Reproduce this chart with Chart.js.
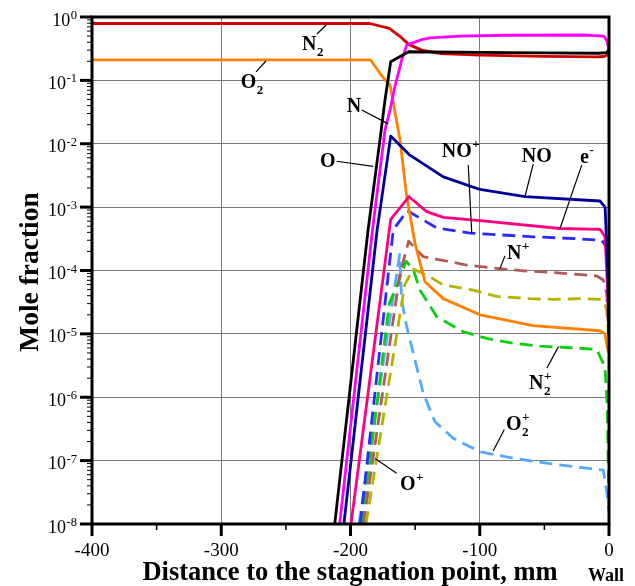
<!DOCTYPE html>
<html>
<head>
<meta charset="utf-8">
<title>Mole fraction along the stagnation line</title>
<script src="https://cdn.jsdelivr.net/npm/chart.js@4.4.1/dist/chart.umd.min.js"></script>
<style>
  html, body { margin: 0; padding: 0; background: #fff; }
  canvas { display: block; }
</style>
</head>
<body>
<canvas id="chart" width="635" height="586"></canvas>
<script>
const SERIF = '"Liberation Serif", "Times New Roman", Times, serif';

// Distance to the stagnation point (mm, wall at 0) and mole fraction of each species
const xN2 = [-400, -185, -170, -162, -155, -145, -130, -100, -50, -10, -4, -1.5, 0];
const yN2 = [0.79, 0.79, 0.66, 0.50, 0.37, 0.30, 0.265, 0.25, 0.24, 0.235, 0.238, 0.25, 0.28];

const xO2 = [-400, -184.5, -175.2, -169.4, -167.3, -161.7, -156.5, -150.1, -142.4, -128.2, -99.8, -58.8, -7, -3, -1.3, 0];
const yO2 = [0.21, 0.21, 0.114, 0.0845, 0.049, 0.0115, 1.46e-3, 2.7e-4, 6.65e-5, 3.6e-5, 2.0e-5, 1.35e-5, 1.12e-5, 1.0e-5, 6e-6, 5e-6];

const xN = [-208.4, -183.0, -173.3, -169.4, -165.6, -160.4, -156.5, -145, -138.5, -115, -80, -20, -4, -1.5, 0];
const yN = [1e-8, 4.36e-4, 0.0165, 0.034, 0.08, 0.21, 0.36, 0.44, 0.47, 0.50, 0.515, 0.52, 0.50, 0.42, 0.30];

const xO = [-212.2, -186.4, -177.2, -173.3, -168.9, -155, -100, -50, -8, -2, 0];
const yO = [1e-8, 4.36e-4, 0.0115, 0.049, 0.197, 0.283, 0.277, 0.272, 0.268, 0.275, 0.30];

const xNO = [-205.1, -179.4, -168.9, -154, -128.2, -99.8, -65, -7, -3, -1, 0];
const yNO = [1e-8, 4.36e-4, 0.0132, 6.6e-3, 3.0e-3, 1.9e-3, 1.46e-3, 1.25e-3, 1.0e-3, 1e-4, 1e-5];

const xE = [-199.6, -168.9, -154.7, -141.0, -128.2, -99.8, -37.9, -7.0, -3.1, -1, 0];
const yE = [1e-8, 6.4e-4, 1.46e-3, 8.5e-4, 6.9e-4, 6.1e-4, 4.6e-4, 4.47e-4, 3.4e-4, 5e-5, 1e-5];

const xNOp = [-192.5, -166.9, -156, -146.2, -133.3, -107.5, -58.8, -27.6, -5.6, -1.8, 0];
const yNOp = [1e-8, 4.4e-4, 8.8e-4, 6.7e-4, 4.7e-4, 3.9e-4, 3.4e-4, 3.2e-4, 3.0e-4, 2.3e-4, 1e-5];

const xNp = [-190, -161.7, -155, -143.7, -130.8, -110.1, -86.9, -66.3, -48.2, -27.6, -9.5, -4.4, -1.8, 0];
const yNp = [1e-8, 9e-5, 2.9e-4, 1.65e-4, 1.47e-4, 1.22e-4, 1.08e-4, 9.9e-5, 9.4e-5, 8.8e-5, 8.2e-5, 7.1e-5, 4.4e-5, 8e-6];

const xOp = [-188, -158, -151.5, -141.0, -128.2, -105.0, -86.9, -61.1, -43.1, -22.4, -5.6, -3.1, -1.8, 0];
const yOp = [1e-8, 6e-5, 1.05e-4, 8.5e-5, 5.9e-5, 4.9e-5, 3.9e-5, 3.6e-5, 3.5e-5, 3.6e-5, 3.5e-5, 2.9e-5, 2.3e-5, 8e-6];

const xN2p = [-191, -170, -162.5, -157, -151.6, -146.2, -133.3, -112.7, -94.6, -74.0, -53.4, -32.7, -9.5, -3.1, -1.3, 0];
const yN2p = [1e-8, 3e-5, 7e-5, 1.4e-4, 1.06e-4, 4.9e-5, 1.87e-5, 1.08e-5, 8.5e-6, 7.1e-6, 6.4e-6, 6.1e-6, 5.7e-6, 3.0e-6, 7e-7, 1.7e-8];

const xO2p = [-193.5, -162, -160.4, -156.5, -151.4, -143.7, -134.6, -120.5, -99.8, -74.0, -48.2, -17.3, -4.4, -1.5, 0];
const yO2p = [1e-8, 1.8e-4, 3.4e-5, 1.3e-5, 4.9e-6, 1.15e-6, 4.1e-7, 2.25e-7, 1.38e-7, 1.09e-7, 9.1e-8, 7.6e-8, 7.1e-8, 3e-8, 1.5e-8];

// Axis ticks
const xMajor = [-400, -300, -200, -100, 0];
const xMajorLabels = ['-400', '-300', '-200', '-100', '0'];
const xMinor = [-350, -250, -150, -50];
const yDecades = [-8, -7, -6, -5, -4, -3, -2, -1, 0];

// Species labels: anchor (mm, mole fraction) and leader line from/to
const notes = [
  { base: 'N',  sub: '2', sup: '',  at: [-237.5, 0.30],    lead: [[-225.9, 0.539], [-218.9, 0.748]] },
  { base: 'O',  sub: '2', sup: '',  at: [-284.9, 0.0758],  lead: [[-273.1, 0.136], [-265.4, 0.202]] },
  { base: 'N',  sub: '',  sup: '',  at: [-202.9, 0.0317],  lead: [[-191.3, 0.0341], [-170.8, 0.0206]] },
  { base: 'O',  sub: '',  sup: '',  at: [-223.6, 4.3e-3],  lead: [[-210.7, 5.3e-3], [-182.4, 4.4e-3]] },
  { base: 'NO', sub: '',  sup: '+', at: [-129.4, 6.2e-3],  lead: [[-108.9, 4.6e-3], [-106.2, 3.9e-4]] },
  { base: 'NO', sub: '',  sup: '',  at: [-67.5, 5.15e-3],  lead: [[-58.6, 4.8e-3], [-65.0, 1.47e-3]] },
  { base: 'e',  sub: '',  sup: '-', at: [-22.4, 4.97e-3],  lead: [[-21.1, 4.6e-3], [-37.9, 4.6e-4]] },
  { base: 'N',  sub: '',  sup: '+', at: [-78.9, 1.52e-4],  lead: [[-80.5, 1.7e-4], [-84.3, 1.08e-4]] },
  { base: 'N',  sub: '2', sup: '+', at: [-61.9, 1.35e-6],  lead: [[-48.0, 2.9e-6], [-39.1, 6.3e-6]] },
  { base: 'O',  sub: '2', sup: '+', at: [-79.7, 3.04e-7],  lead: [[-81.0, 3.1e-7], [-89.6, 1.42e-7]] },
  { base: 'O',  sub: '',  sup: '+', at: [-161.7, 3.4e-8],  lead: [[-164.3, 6.3e-8], [-181.0, 1.08e-7]] }
];

const pts = (xs, ys) => xs.map((x, i) => ({ x, y: ys[i] }));
const solid = (label, xs, ys, color) => ({ label, data: pts(xs, ys), borderColor: color, borderWidth: 2.8 });
const dashed = (label, xs, ys, color) => Object.assign(solid(label, xs, ys, color), { borderDash: [13, 7] });

// Earlier datasets are painted on top
const datasets = [
  solid('O', xO, yO, '#000000'),
  solid('N', xN, yN, '#ff00ff'),
  solid('NO', xNO, yNO, '#000099'),
  solid('e-', xE, yE, '#ff0080'),
  solid('O2', xO2, yO2, '#ff8000'),
  solid('N2', xN2, yN2, '#d00000'),
  dashed('NO+', xNOp, yNOp, '#2b2bff'),
  dashed('N+', xNp, yNp, '#b05a5a'),
  dashed('O+', xOp, yOp, '#b4b400'),
  dashed('N2+', xN2p, yN2p, '#10cc10'),
  dashed('O2+', xO2p, yO2p, '#55aaff')
];

const decor = {
  id: 'decor',
  afterDraw(chart) {
    const { ctx, chartArea: a, scales } = chart;
    const sx = scales.x, sy = scales.y;
    const seg = (x0, y0, x1, y1, w) => {
      ctx.lineWidth = w; ctx.beginPath(); ctx.moveTo(x0, y0); ctx.lineTo(x1, y1); ctx.stroke();
    };
    ctx.save();
    ctx.strokeStyle = '#000';
    ctx.fillStyle = '#000';
    ctx.lineCap = 'butt';

    // frame
    ctx.lineWidth = 3;
    ctx.strokeRect(a.left, a.top, a.right - a.left, a.bottom - a.top);

    // y axis: decade ticks, minor ticks and 10^n labels
    yDecades.forEach(d => {
      const py = sy.getPixelForValue(Math.pow(10, d));
      seg(a.left - 12, py, a.left, py, 3);
      if (d < 0) {
        for (let m = 2; m <= 9; m++) {
          const q = sy.getPixelForValue(m * Math.pow(10, d));
          seg(a.left - 5, q, a.left, q, 1);
        }
      }
      const exp = String(d);
      ctx.font = `18px ${SERIF}`;
      const wb = ctx.measureText('10').width;
      ctx.font = `12.5px ${SERIF}`;
      const we = ctx.measureText(exp).width;
      const right = a.left - 15;
      ctx.textAlign = 'left';
      ctx.textBaseline = 'alphabetic';
      ctx.font = `18px ${SERIF}`;
      ctx.fillText('10', right - we - wb - 0.5, py + 8.5);
      ctx.font = `12.5px ${SERIF}`;
      ctx.fillText(exp, right - we, py + 2);
    });

    // x axis ticks and labels
    xMajor.forEach((v, i) => {
      const px = sx.getPixelForValue(v);
      seg(px, a.bottom, px, a.bottom + 12, 3);
      ctx.font = `19px ${SERIF}`;
      ctx.textAlign = 'center';
      ctx.fillText(xMajorLabels[i], px, a.bottom + 32);
    });
    xMinor.forEach(v => {
      const px = sx.getPixelForValue(v);
      seg(px, a.bottom, px, a.bottom + 6, 1.5);
    });

    // axis titles
    ctx.font = `bold 26.5px ${SERIF}`;
    ctx.textAlign = 'center';
    ctx.fillText('Distance to the stagnation point, mm', 350, 580);
    ctx.font = `bold 18px ${SERIF}`;
    ctx.fillText('Wall', sx.getPixelForValue(0) - 3, 581);
    ctx.save();
    ctx.translate(38, 272);
    ctx.rotate(-Math.PI / 2);
    ctx.font = `bold 27.5px ${SERIF}`;
    ctx.fillText('Mole fraction', 0, 0);
    ctx.restore();

    // species labels with leader lines
    ctx.textAlign = 'left';
    notes.forEach(n => {
      const [l0, l1] = n.lead;
      seg(sx.getPixelForValue(l0[0]), sy.getPixelForValue(l0[1]),
          sx.getPixelForValue(l1[0]), sy.getPixelForValue(l1[1]), 1.2);
      const px = sx.getPixelForValue(n.at[0]);
      const py = sy.getPixelForValue(n.at[1]);
      ctx.font = `bold 20px ${SERIF}`;
      ctx.fillText(n.base, px, py);
      const w = ctx.measureText(n.base).width;
      ctx.font = `bold 13px ${SERIF}`;
      if (n.sub) ctx.fillText(n.sub, px + w + 0.5, py + 6);
      if (n.sup) ctx.fillText(n.sup, px + w + 0.5, py - 9);
    });
    ctx.restore();
  }
};

new Chart(document.getElementById('chart'), {
  type: 'line',
  data: { datasets },
  options: {
    responsive: false,
    animation: false,
    devicePixelRatio: 1,
    layout: { padding: { left: 0, right: 26, top: 17, bottom: 0 } },
    plugins: { legend: { display: false }, tooltip: { enabled: false } },
    elements: {
      point: { radius: 0, hoverRadius: 0 },
      line: { tension: 0, borderJoinStyle: 'round', borderCapStyle: 'butt', fill: false }
    },
    scales: {
      x: {
        type: 'linear', min: -400, max: 0,
        afterFit(s) { s.height = 62; },
        afterBuildTicks(s) { s.ticks = xMajor.map(v => ({ value: v })); },
        ticks: { display: false },
        grid: { color: '#7a7a7a', lineWidth: 1, drawTicks: false },
        border: { display: false }
      },
      y: {
        type: 'logarithmic', min: 1e-8, max: 1,
        afterFit(s) { s.width = 92; },
        afterBuildTicks(s) { s.ticks = yDecades.map(d => ({ value: Math.pow(10, d) })); },
        ticks: { display: false },
        grid: { color: '#7a7a7a', lineWidth: 1, drawTicks: false },
        border: { display: false }
      }
    }
  },
  plugins: [decor]
});
</script>
</body>
</html>
